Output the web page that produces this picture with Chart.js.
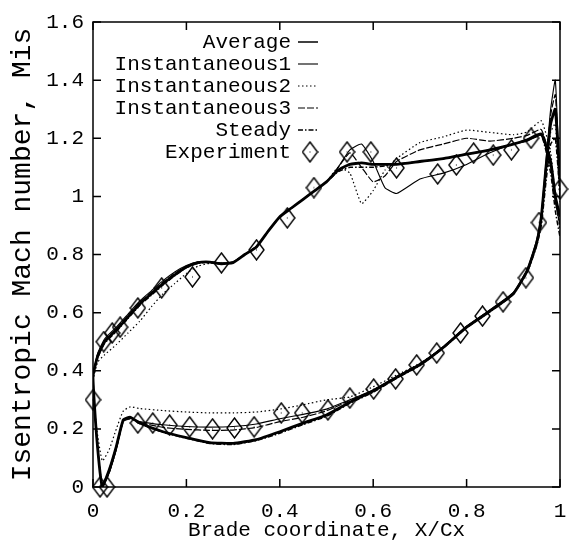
<!DOCTYPE html>
<html>
<head>
<meta charset="utf-8">
<script src="https://cdn.jsdelivr.net/npm/chart.js@4.4.1/dist/chart.umd.min.js"></script>
<style>
  html, body { margin: 0; padding: 0; background: #fff; }
</style>
</head>
<body>
<canvas id="chart" width="570" height="550"></canvas>
<script>
// surface positions, pressure side runs trailing edge -> leading edge, suction side leading edge -> trailing edge
const pressX = [1.0, 0.99, 0.98, 0.97, 0.96, 0.95, 0.93, 0.9, 0.85, 0.8, 0.75, 0.7, 0.65, 0.6, 0.55, 0.5, 0.45, 0.4, 0.35, 0.3, 0.25, 0.2, 0.15, 0.1, 0.08, 0.065, 0.05, 0.035, 0.02, 0.008, 0];
const suctX = [0, 0.01, 0.025, 0.05, 0.075, 0.1, 0.125, 0.15, 0.175, 0.2, 0.225, 0.25, 0.275, 0.3, 0.325, 0.35, 0.375, 0.4, 0.425, 0.45, 0.475, 0.5, 0.525, 0.55, 0.575, 0.6, 0.625, 0.65, 0.7, 0.75, 0.8, 0.85, 0.9, 0.93, 0.96, 0.98, 0.99, 1.0];

const avgP    = [1.05, 1.3, 1.25, 1.1, 0.93, 0.84, 0.745, 0.665, 0.605, 0.55, 0.48, 0.42, 0.377, 0.33, 0.292, 0.248, 0.22, 0.19, 0.163, 0.15, 0.153, 0.17, 0.19, 0.22, 0.24, 0.232, 0.14, 0.06, 0.0, 0.17, 0.38];
const inst1P  = [1.02, 1.4, 1.3, 1.12, 0.94, 0.85, 0.75, 0.67, 0.61, 0.553, 0.483, 0.425, 0.38, 0.335, 0.3, 0.268, 0.25, 0.235, 0.217, 0.208, 0.206, 0.208, 0.214, 0.225, 0.236, 0.228, 0.13, 0.05, 0.0, 0.17, 0.38];
const inst2P  = [0.98, 1.25, 1.22, 1.08, 0.92, 0.83, 0.74, 0.665, 0.605, 0.55, 0.48, 0.425, 0.385, 0.345, 0.31, 0.3, 0.283, 0.268, 0.258, 0.255, 0.255, 0.258, 0.263, 0.27, 0.276, 0.262, 0.2, 0.13, 0.09, 0.2, 0.36];
const inst3P  = [1.0, 1.35, 1.28, 1.1, 0.93, 0.845, 0.745, 0.667, 0.607, 0.552, 0.482, 0.422, 0.378, 0.333, 0.298, 0.262, 0.24, 0.225, 0.205, 0.196, 0.195, 0.198, 0.205, 0.222, 0.234, 0.226, 0.13, 0.05, 0.0, 0.17, 0.38];
const steadyP = [1.0, 1.2, 1.18, 1.05, 0.9, 0.83, 0.74, 0.663, 0.603, 0.548, 0.478, 0.418, 0.374, 0.326, 0.288, 0.243, 0.215, 0.185, 0.16, 0.146, 0.15, 0.168, 0.188, 0.218, 0.238, 0.23, 0.14, 0.06, 0.0, 0.17, 0.38];

const avgS    = [0.38, 0.45, 0.50, 0.54, 0.585, 0.63, 0.665, 0.70, 0.73, 0.757, 0.772, 0.774, 0.768, 0.772, 0.80, 0.826, 0.88, 0.93, 0.96, 0.99, 1.02, 1.05, 1.09, 1.11, 1.115, 1.11, 1.11, 1.11, 1.12, 1.13, 1.145, 1.16, 1.18, 1.195, 1.215, 1.12, 1.0, 0.93];
const inst1S  = [0.38, 0.46, 0.51, 0.55, 0.595, 0.64, 0.675, 0.71, 0.74, 0.762, 0.775, 0.775, 0.77, 0.775, 0.80, 0.828, 0.88, 0.93, 0.96, 0.99, 1.02, 1.05, 1.1, 1.16, 1.18, 1.12, 1.03, 1.01, 1.06, 1.08, 1.11, 1.15, 1.18, 1.19, 1.21, 1.1, 0.98, 0.9];
const inst2S  = [0.36, 0.43, 0.455, 0.49, 0.53, 0.57, 0.62, 0.665, 0.70, 0.735, 0.76, 0.77, 0.768, 0.772, 0.80, 0.826, 0.88, 0.93, 0.96, 0.99, 1.02, 1.05, 1.1, 1.08, 0.975, 1.02, 1.09, 1.13, 1.185, 1.205, 1.228, 1.22, 1.212, 1.222, 1.26, 1.15, 1.0, 0.88];
const inst3S  = [0.38, 0.455, 0.505, 0.545, 0.59, 0.635, 0.67, 0.705, 0.735, 0.76, 0.774, 0.775, 0.77, 0.774, 0.80, 0.827, 0.88, 0.93, 0.96, 0.99, 1.02, 1.05, 1.1, 1.15, 1.1, 1.05, 1.07, 1.12, 1.16, 1.18, 1.2, 1.19, 1.2, 1.21, 1.23, 1.12, 1.0, 0.9];
const steadyS = [0.37, 0.445, 0.495, 0.535, 0.58, 0.625, 0.66, 0.695, 0.727, 0.755, 0.77, 0.773, 0.768, 0.772, 0.80, 0.826, 0.88, 0.93, 0.96, 0.99, 1.02, 1.05, 1.085, 1.1, 1.1, 1.1, 1.105, 1.11, 1.12, 1.13, 1.145, 1.16, 1.18, 1.195, 1.21, 1.08, 0.95, 0.86];

// experiment: suction side then pressure side
const expX = [0, 0.023, 0.041, 0.058, 0.096, 0.147, 0.213, 0.275, 0.35, 0.416, 0.473, 0.544, 0.595, 0.65, 0.738, 0.778, 0.815, 0.857, 0.896, 0.938, 1.0,
              0.015, 0.03, 0.096, 0.128, 0.164, 0.207, 0.256, 0.303, 0.345, 0.403, 0.448, 0.503, 0.55, 0.601, 0.648, 0.693, 0.736, 0.787, 0.834, 0.878, 0.927, 0.955];
const expY = [0.30, 0.50, 0.53, 0.55, 0.616, 0.685, 0.723, 0.771, 0.816, 0.926, 1.03, 1.153, 1.153, 1.098, 1.077, 1.108, 1.149, 1.142, 1.16, 1.2, 1.025,
              0.0, 0.0, 0.22, 0.22, 0.213, 0.207, 0.2, 0.203, 0.207, 0.255, 0.255, 0.265, 0.306, 0.337, 0.372, 0.42, 0.461, 0.53, 0.588, 0.637, 0.72, 0.91];

const seriesNames = ['Average', 'Instantaneous1', 'Instantaneous2', 'Instantaneous3', 'Steady', 'Experiment'];
const xTicks = [0, 0.2, 0.4, 0.6, 0.8, 1];
const yTicks = [0, 0.2, 0.4, 0.6, 0.8, 1, 1.2, 1.4, 1.6];

const FONT = '"Liberation Mono", "DejaVu Sans Mono", monospace';

function surface(pY, sY) {
  const pts = pressX.map((x, i) => ({ x, y: pY[i] }));
  for (let i = 1; i < suctX.length; i++) pts.push({ x: suctX[i], y: sY[i] });
  return pts;
}

// open diamond marker, a bit taller than wide
const diamond = document.createElement('canvas');
diamond.width = 17;
diamond.height = 22;
(() => {
  const d = diamond.getContext('2d');
  d.strokeStyle = '#000';
  d.lineWidth = 1.4;
  d.beginPath();
  d.moveTo(8.5, 1); d.lineTo(16, 11); d.lineTo(8.5, 21); d.lineTo(1, 11); d.closePath();
  d.stroke();
  d.fillStyle = '#000';
  d.fillRect(8, 10.5, 1, 1);
})();

const lineStyle = (w, dash) => ({
  showLine: true, borderColor: '#000', borderWidth: w, borderDash: dash,
  pointRadius: 0, tension: 0.15, fill: false
});

const datasets = [
  { label: seriesNames[0], data: surface(avgP, avgS), ...lineStyle(2.8, []) },
  { label: seriesNames[1], data: surface(inst1P, inst1S), ...lineStyle(1.1, []) },
  { label: seriesNames[2], data: surface(inst2P, inst2S), ...lineStyle(1.2, [1.5, 2.5]) },
  { label: seriesNames[3], data: surface(inst3P, inst3S), ...lineStyle(1.2, [7, 2]) },
  { label: seriesNames[4], data: surface(steadyP, steadyS), ...lineStyle(1.5, [5, 2, 1.5, 2]) },
  {
    label: seriesNames[5],
    data: expX.map((x, i) => ({ x, y: expY[i] })),
    showLine: false, pointStyle: diamond, pointRadius: 9, clip: false
  }
];

// frame with inward tick marks on all four sides
const framePlugin = {
  id: 'frame',
  afterDatasetsDraw(chart) {
    const { ctx, chartArea: a, scales: { x, y } } = chart;
    ctx.save();
    ctx.strokeStyle = '#000';
    ctx.lineWidth = 1.5;
    ctx.setLineDash([]);
    ctx.strokeRect(a.left, a.top, a.right - a.left, a.bottom - a.top);
    ctx.beginPath();
    xTicks.forEach(v => {
      const px = x.getPixelForValue(v);
      ctx.moveTo(px, a.bottom); ctx.lineTo(px, a.bottom - 8);
      ctx.moveTo(px, a.top); ctx.lineTo(px, a.top + 8);
    });
    yTicks.forEach(v => {
      const py = y.getPixelForValue(v);
      ctx.moveTo(a.left, py); ctx.lineTo(a.left + 8, py);
      ctx.moveTo(a.right, py); ctx.lineTo(a.right - 8, py);
    });
    ctx.stroke();
    ctx.restore();
  }
};

// key in the upper left, text right-aligned with the sample after it
const keyPlugin = {
  id: 'key',
  afterDraw(chart) {
    const ctx = chart.ctx;
    ctx.save();
    ctx.font = '21px ' + FONT;
    ctx.fillStyle = '#000';
    ctx.textAlign = 'right';
    ctx.textBaseline = 'middle';
    chart.data.datasets.forEach((ds, i) => {
      const yy = 42 + i * 22;
      ctx.fillText(ds.label, 291, yy);
      if (ds.showLine) {
        ctx.strokeStyle = '#000';
        ctx.lineWidth = Math.min(ds.borderWidth, 1.5);
        ctx.setLineDash(ds.borderDash);
        ctx.beginPath();
        ctx.moveTo(298, yy);
        ctx.lineTo(318, yy);
        ctx.stroke();
      } else {
        ctx.drawImage(diamond, 310 - diamond.width / 2, yy - diamond.height / 2);
      }
    });
    ctx.restore();
  }
};

new Chart(document.getElementById('chart'), {
  type: 'scatter',
  data: { datasets },
  plugins: [framePlugin, keyPlugin],
  options: {
    responsive: false,
    animation: false,
    layout: { padding: { left: 0, top: 22, right: 8, bottom: 0 } },
    plugins: { legend: { display: false }, tooltip: { enabled: false } },
    scales: {
      x: {
        type: 'linear', min: 0, max: 1,
        afterBuildTicks: s => { s.ticks = xTicks.map(v => ({ value: v })); },
        afterFit: s => { s.height = 63; s.paddingRight = 0; s.paddingLeft = 0; },
        grid: { display: false, drawTicks: false },
        border: { display: false },
        ticks: { color: '#000', padding: 9, font: { family: FONT, size: 21, lineHeight: 1.5 }, maxRotation: 0, callback: v => String(v) },
        title: { display: true, text: 'Brade coordinate, X/Cx', color: '#000', font: { family: FONT, size: 21 }, padding: { top: 0, bottom: 7 } }
      },
      y: {
        type: 'linear', min: 0, max: 1.6,
        afterBuildTicks: s => { s.ticks = yTicks.map(v => ({ value: v })); },
        afterFit: s => { s.width = 93; },
        grid: { display: false, drawTicks: false },
        border: { display: false },
        ticks: { color: '#000', padding: 9, font: { family: FONT, size: 21 }, callback: v => String(v) },
        title: { display: true, text: 'Isentropic Mach number, Mis', color: '#000', font: { family: FONT, size: 28 }, padding: { top: 6, bottom: 0 } }
      }
    }
  }
});
</script>
</body>
</html>
